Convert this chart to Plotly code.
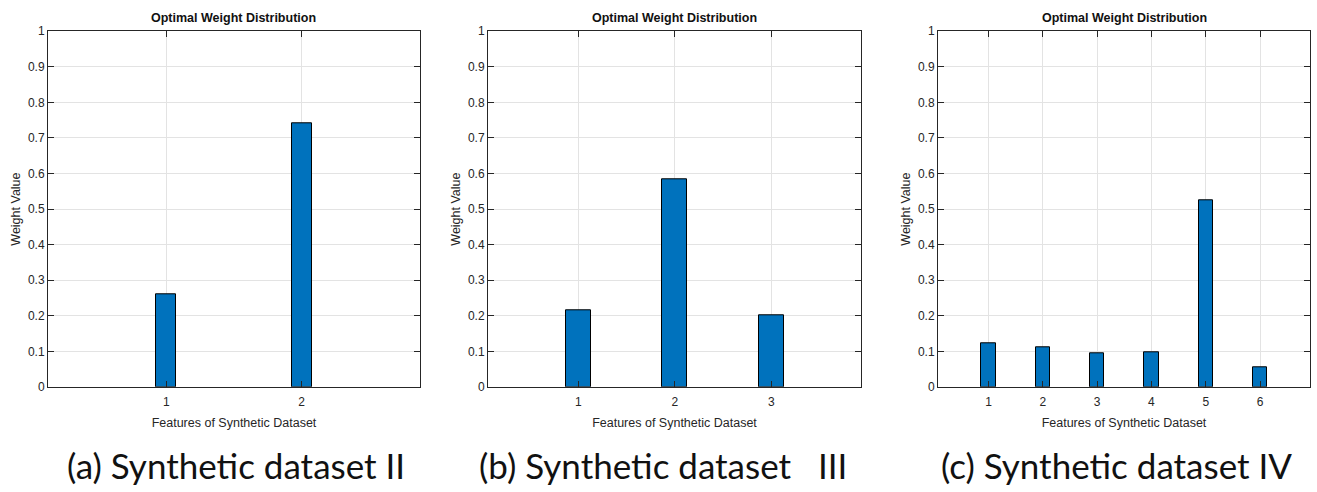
import plotly.graph_objects as go

# Optimal feature weights for the three synthetic datasets
features_a = [1, 2]
weights_a = [0.26, 0.74]

features_b = [1, 2, 3]
weights_b = [0.215, 0.583, 0.202]

features_c = [1, 2, 3, 4, 5, 6]
weights_c = [0.122, 0.110, 0.094, 0.096, 0.526, 0.054]

y_ticks = [0, 0.1, 0.2, 0.3, 0.4, 0.5, 0.6, 0.7, 0.8, 0.9, 1]
y_tick_text = ["0", "0.1", "0.2", "0.3", "0.4", "0.5", "0.6", "0.7", "0.8", "0.9", "1"]

panel_title = "Optimal Weight Distribution"
x_title = "Features of Synthetic Dataset"
y_title = "Weight Value"
captions = ["(a) Synthetic dataset II",
            "(b) Synthetic dataset\u00a0\u00a0\u00a0III",
            "(c) Synthetic dataset IV"]

W, H = 1317, 492
BAR_COLOR = "#0072BD"
AX_COLOR = "#262626"
GRID_COLOR = "#e3e3e3"
AX_FONT = "Liberation Sans, Arial, sans-serif"

# plot-area pixel boxes (left, right) and common top/bottom
x_boxes = [(48, 420), (488, 861), (938, 1310)]
top_px, bottom_px = 25, 391
x_ranges = [[0.125, 2.875], [0.065, 3.93], [0.07, 6.92]]
bar_widths = [0.146, 0.256, 0.263]

panels = [(features_a, weights_a), (features_b, weights_b), (features_c, weights_c)]

fig = go.Figure()
y_dom = [(H - bottom_px) / H, (H - top_px) / H]

for i, ((feats, vals), (l, r)) in enumerate(zip(panels, x_boxes)):
    sfx = "" if i == 0 else str(i + 1)
    fig.add_trace(go.Bar(
        x=feats, y=vals, width=bar_widths[i],
        marker=dict(color=BAR_COLOR, line=dict(color="#000000", width=1)),
        xaxis="x" + sfx, yaxis="y" + sfx, showlegend=False,
        hoverinfo="x+y",
    ))
    common = dict(
        showline=True, linecolor=AX_COLOR, linewidth=1, mirror="ticks",
        ticks="inside", ticklen=6, tickcolor=AX_COLOR, tickwidth=1,
        showgrid=True, gridcolor=GRID_COLOR, gridwidth=1,
        zeroline=False,
        tickfont=dict(family=AX_FONT, size=12, color=AX_COLOR),
        title_font=dict(family=AX_FONT, size=12.5, color=AX_COLOR),
    )
    fig.update_layout(**{
        "xaxis" + sfx: dict(
            domain=[l / W, r / W], range=x_ranges[i],
            tickmode="array", tickvals=feats, ticktext=[str(f) for f in feats],
            anchor="y" + sfx, title=dict(text=x_title, standoff=9),
            ticklabelstandoff=4,
            **common,
        ),
        "yaxis" + sfx: dict(
            domain=y_dom, range=[0, 1],
            tickmode="array", tickvals=y_ticks, ticktext=y_tick_text,
            anchor="x" + sfx, title=dict(text=y_title, standoff=4),
            **common,
        ),
    })
    cx = (l + r) / 2 / W
    fig.add_annotation(
        x=cx, y=(H - 11.5) / H, xref="paper", yref="paper",
        text="<b>" + panel_title + "</b>", showarrow=False,
        font=dict(family=AX_FONT, size=12.5, color="#111111"),
        xanchor="center", yanchor="middle",
    )

caption_centers = [236, 663, 1116]
for cx, cap in zip(caption_centers, captions):
    fig.add_annotation(
        x=cx / W, y=(H - 471) / H, xref="paper", yref="paper",
        text=cap, showarrow=False,
        font=dict(family="Lato, sans-serif", size=35, color="#111111"),
        xanchor="center", yanchor="middle",
    )

fig.update_layout(
    width=W, height=H,
    margin=dict(l=0, r=0, t=0, b=0),
    paper_bgcolor="white", plot_bgcolor="white",
    bargap=0,
)

fig.write_html("out.html")
